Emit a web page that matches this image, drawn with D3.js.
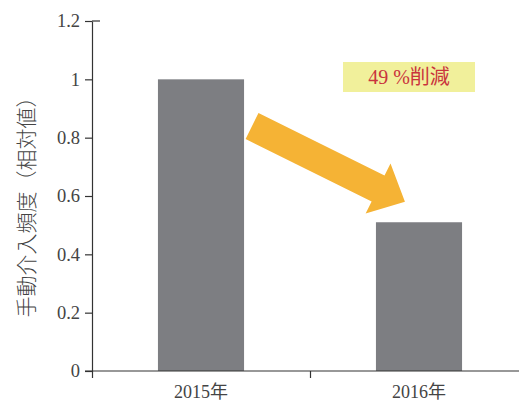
<!DOCTYPE html>
<html>
<head>
<meta charset="utf-8">
<script src="https://cdn.jsdelivr.net/npm/d3@7"></script>
<style>
  html, body { margin: 0; padding: 0; background: #fff; }
  svg { display: block; }
  text { font-family: "Liberation Serif", "DejaVu Serif", "Noto Sans CJK JP", serif; }
</style>
</head>
<body>
<svg id="chart" width="519" height="401"></svg>
<script>
// Relative manual-intervention frequency per year
const categories = ["2015年", "2016年"];
const values = [1.0, 0.51];
const yTicks = [0, 0.2, 0.4, 0.6, 0.8, 1, 1.2];
const yTitle = "手動介入頻度（相対値）";
const note = "49 %削減";

const W = 519, H = 401;
const plotLeft = 92, plotBottom = 371, plotTop = 21, plotRight = 528;

const svg = d3.select("#chart");

const x = d3.scaleBand()
  .domain(categories)
  .range([plotLeft, plotRight])
  .paddingInner(0.605)
  .paddingOuter(0.3025);

const y = d3.scaleLinear().domain([0, 1.2]).range([plotBottom, plotTop]);

// bars
svg.append("g").selectAll("rect")
  .data(values)
  .join("rect")
  .attr("x", (d, i) => x(categories[i]))
  .attr("y", d => y(d))
  .attr("width", x.bandwidth())
  .attr("height", d => y(0) - y(d))
  .attr("fill", "#7d7e82");

// y axis
const yAxis = svg.append("g")
  .attr("transform", `translate(${plotLeft},0)`)
  .call(d3.axisLeft(y).tickValues(yTicks).tickSize(7).tickSizeOuter(0).tickPadding(5)
    .tickFormat(d => d3.format("~g")(d)));
yAxis.selectAll("text")
  .attr("font-size", 18.5)
  .attr("fill", "#444");
yAxis.selectAll("line, path").attr("stroke", "#333").attr("stroke-width", 1.2);
// the top tick runs across the axis line
yAxis.append("line")
  .attr("x1", 0).attr("x2", 8)
  .attr("y1", y(1.2)).attr("y2", y(1.2))
  .attr("stroke", "#333").attr("stroke-width", 1.2);

// x axis: boundaries between categories carry the ticks
const bounds = d3.scaleLinear().domain([0, categories.length]).range([plotLeft, plotRight]);
const xAxis = svg.append("g")
  .attr("transform", `translate(0,${plotBottom})`)
  .call(d3.axisBottom(bounds).ticks(categories.length).tickSize(7).tickSizeOuter(0).tickFormat(""));
xAxis.select("path.domain").remove();
xAxis.selectAll("line").attr("stroke", "#333").attr("stroke-width", 1.2);
xAxis.append("line")
  .attr("x1", plotLeft - 7).attr("x2", W)
  .attr("y1", 0).attr("y2", 0)
  .attr("stroke", "#333").attr("stroke-width", 1.2);

svg.append("g").selectAll("text")
  .data(categories)
  .join("text")
  .attr("x", d => x(d) + x.bandwidth() / 2)
  .attr("y", plotBottom + 27)
  .attr("text-anchor", "middle")
  .attr("font-size", 18)
  .attr("fill", "#444")
  .text(d => d);

// y title
svg.append("text")
  .attr("transform", `translate(34,${(plotTop + plotBottom) / 2 + 6}) rotate(-90)`)
  .attr("text-anchor", "middle")
  .attr("font-size", 21)
  .attr("font-family", "Noto Sans CJK JP")
  .attr("font-weight", 300)
  .attr("fill", "#444")
  .text(yTitle);

// arrow from the 2015 bar down toward the 2016 bar
const x0 = x(categories[0]) + x.bandwidth() + 8, y0 = y(0.84);
const x1 = x(categories[1]) + 29, y1 = y(0.58);
const dx = x1 - x0, dy = y1 - y0, len = Math.hypot(dx, dy);
const ux = dx / len, uy = dy / len, nx = -uy, ny = ux;
const shaft = 14.5, head = 28, headLen = 30;
const bx = x1 - ux * headLen, by = y1 - uy * headLen;
const pts = [
  [x0 + nx * shaft, y0 + ny * shaft],
  [bx + nx * shaft, by + ny * shaft],
  [bx + nx * head, by + ny * head],
  [x1, y1],
  [bx - nx * head, by - ny * head],
  [bx - nx * shaft, by - ny * shaft],
  [x0 - nx * shaft, y0 - ny * shaft]
];
svg.append("path")
  .attr("d", d3.line()(pts) + "Z")
  .attr("fill", "#f5b335");

// reduction note
const nX = x(categories[1]) + x.bandwidth() / 2 - 10;
svg.append("rect")
  .attr("x", nX - 66).attr("y", 62)
  .attr("width", 132).attr("height", 30)
  .attr("fill", "#f1f09b");
svg.append("text")
  .attr("x", nX).attr("y", 84)
  .attr("text-anchor", "middle")
  .attr("font-size", 20)
  .attr("fill", "#c9343d")
  .text(note);
</script>
</body>
</html>
